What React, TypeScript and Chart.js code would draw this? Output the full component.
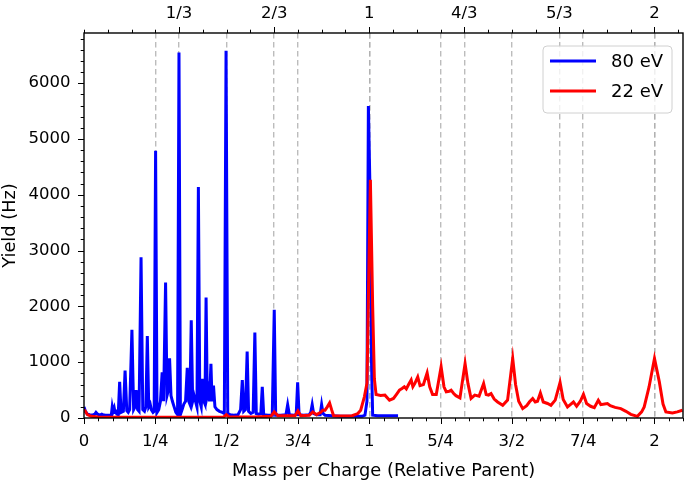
import { useEffect, useRef } from 'react';
import { Chart, registerables } from 'chart.js';
Chart.register(...registerables);

// ---- data ----
const blueX = [
  0.000, 0.005, 0.012, 0.020, 0.030, 0.038, 0.042, 0.047, 0.055, 0.062, 0.066, 0.075, 0.090, 0.096,
  0.099, 0.102, 0.106, 0.109, 0.112, 0.115, 0.120, 0.125, 0.130, 0.138, 0.144, 0.150, 0.155, 0.160,
  0.168, 0.174, 0.179, 0.183, 0.188, 0.193, 0.200, 0.206, 0.212, 0.217, 0.222, 0.227, 0.232, 0.236,
  0.242, 0.246, 0.251, 0.256, 0.262, 0.268, 0.274, 0.279, 0.286, 0.291, 0.296, 0.300, 0.305, 0.310,
  0.316, 0.322, 0.328, 0.333, 0.338, 0.344, 0.350, 0.356, 0.362, 0.367, 0.371, 0.376, 0.381, 0.386,
  0.391, 0.396, 0.401, 0.406, 0.411, 0.416, 0.420, 0.424, 0.428, 0.432, 0.436, 0.440, 0.445, 0.449,
  0.454, 0.459, 0.466, 0.475, 0.485, 0.492, 0.498, 0.504, 0.512, 0.525, 0.540, 0.549, 0.555, 0.560,
  0.566, 0.572, 0.577, 0.585, 0.593, 0.599, 0.604, 0.612, 0.620, 0.625, 0.630, 0.645, 0.660, 0.667,
  0.672, 0.690, 0.708, 0.714, 0.720, 0.735, 0.744, 0.749, 0.754, 0.770, 0.790, 0.795, 0.800, 0.805,
  0.815, 0.828, 0.833, 0.838, 0.845, 0.870, 0.900, 0.950, 0.975, 0.985, 0.992, 0.997, 1.003, 1.008,
  1.012, 1.030, 1.060, 1.101,
];
const blueY = [
  200, 120, 70, 60, 50, 70, 100, 70, 50, 70, 60, 50, 50, 60,
  200, 120, 180, 100, 150, 70, 60, 650, 100, 120, 850, 130, 100, 150,
  1580, 150, 200, 500, 150, 120, 2880, 150, 120, 200, 1470, 200, 250, 150,
  100, 120, 4790, 100, 150, 300, 820, 300, 2430, 400, 500, 1070, 400, 300,
  200, 100, 60, 6550, 60, 150, 250, 300, 900, 300, 250, 1750, 300, 400,
  300, 200, 4140, 300, 200, 700, 300, 250, 2160, 400, 500, 300, 970, 300,
  580, 200, 150, 120, 100, 80, 6580, 80, 60, 50, 60, 150, 680, 120,
  150, 1190, 120, 80, 100, 1530, 80, 70, 80, 560, 60, 50, 50, 1940,
  50, 50, 60, 240, 60, 50, 60, 640, 60, 50, 60, 100, 240, 80,
  60, 60, 240, 80, 50, 40, 30, 30, 30, 50, 300, 5590, 4000, 1000,
  50, 40, 40, 40,
];

const redX = [
  0.000, 0.005, 0.012, 0.025, 0.050, 0.100, 0.200, 0.300, 0.400, 0.490, 0.499, 0.508, 0.600, 0.655,
  0.667, 0.680, 0.740, 0.750, 0.760, 0.790, 0.802, 0.815, 0.830, 0.837, 0.845, 0.853, 0.861, 0.868,
  0.875, 0.900, 0.940, 0.960, 0.970, 0.983, 0.992, 1.004, 1.012, 1.018, 1.024, 1.040, 1.055, 1.071,
  1.085, 1.095, 1.106, 1.115, 1.123, 1.130, 1.138, 1.147, 1.153, 1.160, 1.170, 1.178, 1.190, 1.203,
  1.212, 1.222, 1.235, 1.252, 1.262, 1.270, 1.280, 1.287, 1.296, 1.304, 1.318, 1.336, 1.346, 1.357,
  1.370, 1.385, 1.401, 1.410, 1.418, 1.427, 1.438, 1.450, 1.468, 1.485, 1.503, 1.513, 1.524, 1.538,
  1.552, 1.562, 1.573, 1.582, 1.590, 1.600, 1.610, 1.625, 1.637, 1.652, 1.669, 1.680, 1.695, 1.705,
  1.716, 1.727, 1.740, 1.751, 1.762, 1.776, 1.789, 1.803, 1.812, 1.825, 1.835, 1.845, 1.862, 1.882,
  1.900, 1.917, 1.940, 1.955, 1.964, 1.981, 2.000, 2.017, 2.030, 2.040, 2.063, 2.080, 2.098,
];
const redY = [
  150, 120, 60, 30, 20, 15, 15, 15, 15, 20, 60, 20, 20, 30,
  110, 40, 40, 125, 40, 50, 110, 60, 100, 140, 140, 200, 270, 150,
  40, 35, 40, 80, 140, 380, 620, 4270, 2000, 700, 420, 405, 410, 320,
  350, 420, 500, 530, 560, 520, 600, 680, 560, 620, 735, 580, 600, 808,
  560, 420, 420, 916, 560, 470, 480, 500, 440, 400, 360, 976, 620, 350,
  410, 390, 617, 420, 410, 437, 340, 287, 228, 320, 1066, 600, 300, 168,
  220, 290, 347, 287, 300, 449, 287, 260, 228, 320, 635, 330, 198, 240,
  287, 210, 300, 425, 260, 210, 186, 318, 240, 250, 258, 220, 190, 168,
  120, 66, 30, 110, 198, 557, 1066, 647, 250, 108, 90, 110, 138,
];

const seriesLabels = ['80 eV', '22 eV'];
const seriesColors = ['#0000ff', '#ff0000'];

const bottomTickValues = [0, 0.25, 0.5, 0.75, 1, 1.25, 1.5, 1.75, 2];
const bottomTickLabels = ['0', '1/4', '1/2', '3/4', '1', '5/4', '3/2', '7/4', '2'];
const topTickValues = [1 / 3, 2 / 3, 1, 4 / 3, 5 / 3, 2];
const topTickLabels = ['1/3', '2/3', '1', '4/3', '5/3', '2'];
const yTickValues = [0, 1000, 2000, 3000, 4000, 5000, 6000];

const X_MIN = 0;
const X_MAX = 2.1;
const Y_MIN = 0;
const Y_MAX = 6900;

const FONT = "'DejaVu Sans', sans-serif";
const TICK_SIZE = 16.5;
const TITLE_SIZE = 17.8;
const LEGEND_SIZE = 18;
const GRID_GRAY = 'rgba(176,176,176,0.85)';

function minorValues(min: number, max: number, step: number) {
  const out: number[] = [];
  for (let i = 0; min + i * step <= max + 1e-9; i++) out.push(min + i * step);
  return out;
}

const decorPlugin = {
  id: 'decor',
  afterDraw(chart: any) {
    const { ctx, chartArea: a, scales } = chart;
    ctx.save();
    ctx.strokeStyle = '#000';
    ctx.lineWidth = 1;
    const seg = (x1: number, y1: number, x2: number, y2: number) => {
      ctx.beginPath();
      ctx.moveTo(x1, y1);
      ctx.lineTo(x2, y2);
      ctx.stroke();
    };
    const MAJ = 6, MIN = 3.3;
    for (const v of minorValues(0, X_MAX, 0.05)) {
      const px = Math.round(scales.x.getPixelForValue(v)) + 0.5;
      seg(px, a.bottom, px, a.bottom + MIN);
    }
    for (const v of bottomTickValues) {
      const px = Math.round(scales.x.getPixelForValue(v)) + 0.5;
      seg(px, a.bottom, px, a.bottom + MAJ);
    }
    for (const v of minorValues(0, X_MAX, 1 / 12)) {
      const px = Math.round(scales.x2.getPixelForValue(v)) + 0.5;
      seg(px, a.top, px, a.top - MIN);
    }
    for (const v of topTickValues) {
      const px = Math.round(scales.x2.getPixelForValue(v)) + 0.5;
      seg(px, a.top, px, a.top - MAJ);
    }
    for (const v of minorValues(0, Y_MAX, 200)) {
      const py = Math.round(scales.y.getPixelForValue(v)) + 0.5;
      seg(a.left, py, a.left - MIN, py);
    }
    for (const v of yTickValues) {
      const py = Math.round(scales.y.getPixelForValue(v)) + 0.5;
      seg(a.left, py, a.left - MAJ, py);
    }
    ctx.lineWidth = 1.4;
    ctx.strokeRect(a.left, a.top, a.right - a.left, a.bottom - a.top);

    // legend
    const bx = a.right - 140, by = a.top + 13, bw = 129, bh = 67, r = 4;
    ctx.beginPath();
    ctx.moveTo(bx + r, by);
    ctx.lineTo(bx + bw - r, by);
    ctx.quadraticCurveTo(bx + bw, by, bx + bw, by + r);
    ctx.lineTo(bx + bw, by + bh - r);
    ctx.quadraticCurveTo(bx + bw, by + bh, bx + bw - r, by + bh);
    ctx.lineTo(bx + r, by + bh);
    ctx.quadraticCurveTo(bx, by + bh, bx, by + bh - r);
    ctx.lineTo(bx, by + r);
    ctx.quadraticCurveTo(bx, by, bx + r, by);
    ctx.closePath();
    ctx.fillStyle = 'rgba(255,255,255,0.8)';
    ctx.fill();
    ctx.strokeStyle = '#d0d0d0';
    ctx.lineWidth = 1;
    ctx.stroke();
    ctx.font = `${LEGEND_SIZE}px ${FONT}`;
    ctx.textBaseline = 'middle';
    ctx.textAlign = 'left';
    chart.data.datasets.forEach((ds: any, i: number) => {
      const ly = by + 15 + i * 30;
      ctx.strokeStyle = ds.borderColor;
      ctx.lineWidth = 3;
      seg(bx + 7, ly, bx + 53, ly);
      ctx.fillStyle = '#000';
      ctx.fillText(ds.label, bx + 68, ly + 1);
    });
    ctx.restore();
  },
};

export default function App() {
  const ref = useRef<HTMLCanvasElement>(null);
  useEffect(() => {
    document.body.style.margin = '0';
    const canvas = ref.current!;
    const mk = (xs: number[], ys: number[]) => xs.map((x, i) => ({ x, y: ys[i] }));
    const tickFont = { family: FONT, size: TICK_SIZE };
    const titleFont = { family: FONT, size: TITLE_SIZE };
    const chart = new Chart(canvas, {
      type: 'line',
      data: {
        datasets: [
          {
            label: seriesLabels[0],
            data: mk(blueX, blueY),
            borderColor: seriesColors[0],
            backgroundColor: seriesColors[0],
            borderWidth: 3,
            pointRadius: 0,
            tension: 0,
            order: 1,
          },
          {
            label: seriesLabels[1],
            data: mk(redX, redY),
            borderColor: seriesColors[1],
            backgroundColor: seriesColors[1],
            borderWidth: 3,
            pointRadius: 0,
            tension: 0,
            order: 0,
          },
        ],
      },
      options: {
        animation: false,
        responsive: false,
        events: [],
        layout: { padding: { left: 0, right: 2, top: 0, bottom: 0 } },
        plugins: { legend: { display: false }, tooltip: { enabled: false } },
        scales: {
          x: {
            type: 'linear',
            position: 'bottom',
            min: X_MIN,
            max: X_MAX,
            afterBuildTicks: (s: any) => {
              s.ticks = bottomTickValues.map((v) => ({ value: v }));
            },
            afterFit: (s: any) => {
              s.height = 64;
            },
            ticks: {
              autoSkip: false,
              maxRotation: 0,
              padding: 13.5,
              color: '#000',
              font: tickFont,
              callback: (_v: any, i: number) => bottomTickLabels[i],
            },
            grid: {
              drawTicks: false,
              lineWidth: 1.4,
              color: (c: any) => (c.tick && c.tick.value > 0 ? GRID_GRAY : 'rgba(0,0,0,0)'),
            },
            border: { display: false, dash: [5.5, 3.5] },
            title: {
              display: true,
              text: 'Mass per Charge (Relative Parent)',
              color: '#000',
              font: titleFont,
              padding: { top: 0, bottom: 0 },
            },
          },
          x2: {
            type: 'linear',
            position: 'top',
            min: X_MIN,
            max: X_MAX,
            afterBuildTicks: (s: any) => {
              s.ticks = topTickValues.map((v) => ({ value: v }));
            },
            afterFit: (s: any) => {
              s.height = 33;
            },
            ticks: {
              autoSkip: false,
              maxRotation: 0,
              padding: 9,
              color: '#000',
              font: tickFont,
              callback: (_v: any, i: number) => topTickLabels[i],
            },
            grid: {
              drawTicks: false,
              lineWidth: 1.4,
              color: GRID_GRAY,
            },
            border: { display: false, dash: [5.5, 3.5] },
          },
          y: {
            type: 'linear',
            position: 'left',
            min: Y_MIN,
            max: Y_MAX,
            afterBuildTicks: (s: any) => {
              s.ticks = yTickValues.map((v) => ({ value: v }));
            },
            afterFit: (s: any) => {
              s.width = 84;
            },
            ticks: {
              autoSkip: false,
              padding: 13.5,
              color: '#000',
              font: tickFont,
              callback: (v: any) => String(v),
            },
            grid: { display: false, drawTicks: false },
            border: { display: false },
            title: {
              display: true,
              text: 'Yield (Hz)',
              color: '#000',
              font: titleFont,
              padding: { top: 0, bottom: 0 },
            },
          },
        },
      },
      plugins: [decorPlugin],
    } as any);
    return () => chart.destroy();
  }, []);
  return <canvas ref={ref} width={685} height={482} style={{ display: 'block' }} />;
}
